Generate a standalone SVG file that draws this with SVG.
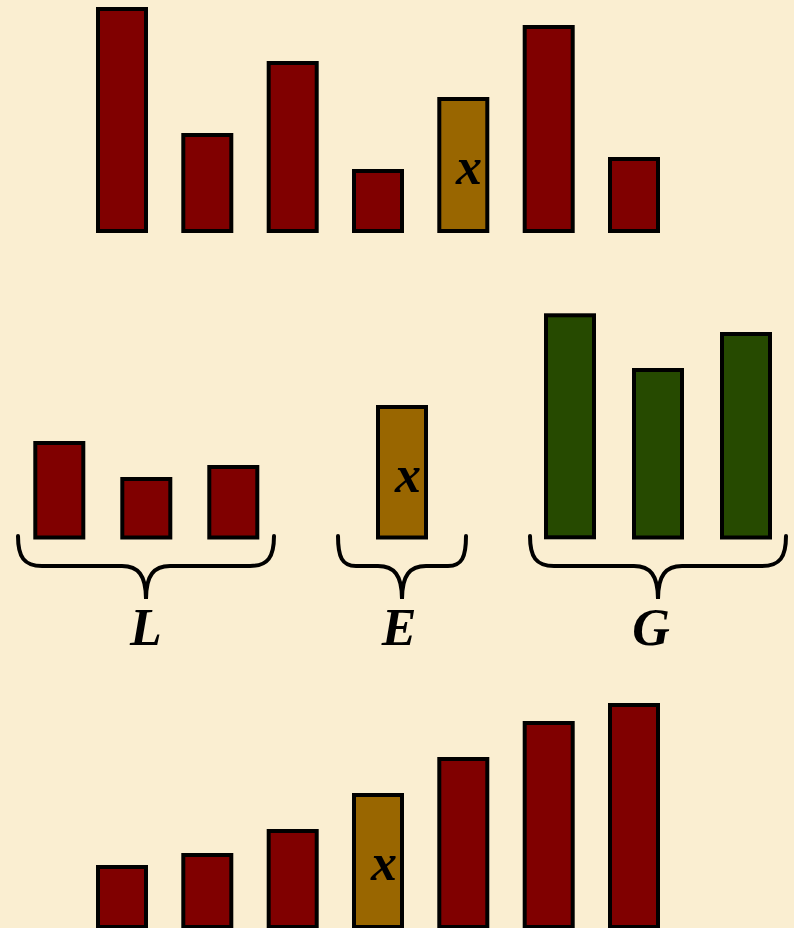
<svg xmlns="http://www.w3.org/2000/svg" width="794" height="928" viewBox="0 0 794 928">
<style>
.bar{stroke:#000;stroke-width:4}
.r{fill:#800000}
.o{fill:#996600}
.g{fill:#264a00}
.brace{fill:none;stroke:#000;stroke-width:4;stroke-linecap:round}
.lbl{font-family:"Liberation Serif","Times New Roman",serif;font-weight:bold;font-style:italic;font-size:52px;fill:#000;text-anchor:middle}
</style>
<rect x="0" y="0" width="794" height="928" fill="#faeed1"/>
<g id="top-row">
<rect class="bar r" x="98" y="9" width="48" height="222"/>
<rect class="bar r" x="183.3" y="135" width="48" height="96"/>
<rect class="bar r" x="268.7" y="63" width="48" height="168"/>
<rect class="bar r" x="354" y="171" width="48" height="60"/>
<g id="top-x"><rect class="bar o" x="439.3" y="99" width="48" height="132"/><text class="lbl" x="469" y="184">x</text></g>
<rect class="bar r" x="524.7" y="27" width="48" height="204"/>
<rect class="bar r" x="610" y="159" width="48" height="72"/>
</g>
<g id="L">
<rect class="bar r" x="35.3" y="443" width="48" height="94.5"/>
<rect class="bar r" x="122.3" y="479" width="48" height="58.5"/>
<rect class="bar r" x="209.3" y="467" width="48" height="70.5"/>
<path class="brace" d="M18,536 C18,557 24,566 42,566 L122,566 C138,566 146,575 146,599 C146,575 154,566 170,566 L250,566 C268,566 274,557 274,536"/>
<text class="lbl" x="146" y="645">L</text>
</g>
<g id="E">
<rect class="bar o" x="378" y="407" width="48" height="130.5"/>
<text class="lbl" x="408" y="492">x</text>
<path class="brace" d="M338,536 C338,557 342,566 356,566 L378,566 C394,566 402,575 402,599 C402,575 410,566 426,566 L448,566 C462,566 466,557 466,536"/>
<text class="lbl" x="399" y="645">E</text>
</g>
<g id="G">
<rect class="bar g" x="546" y="315.3" width="48" height="222"/>
<rect class="bar g" x="634" y="370" width="48" height="167.5"/>
<rect class="bar g" x="722" y="334" width="48" height="203.5"/>
<path class="brace" d="M530,536 C530,557 536,566 554,566 L634,566 C650,566 658,575 658,599 C658,575 666,566 682,566 L762,566 C780,566 786,557 786,536"/>
<text class="lbl" x="651" y="645">G</text>
</g>
<g id="bottom-row">
<rect class="bar r" x="98" y="867" width="48" height="60"/>
<rect class="bar r" x="183.3" y="855" width="48" height="72"/>
<rect class="bar r" x="268.7" y="831" width="48" height="96"/>
<g id="bottom-x"><rect class="bar o" x="354" y="795" width="48" height="132"/><text class="lbl" x="384" y="880">x</text></g>
<rect class="bar r" x="439.3" y="759" width="48" height="168"/>
<rect class="bar r" x="524.7" y="723" width="48" height="204"/>
<rect class="bar r" x="610" y="705" width="48" height="222"/>
</g>
</svg>
